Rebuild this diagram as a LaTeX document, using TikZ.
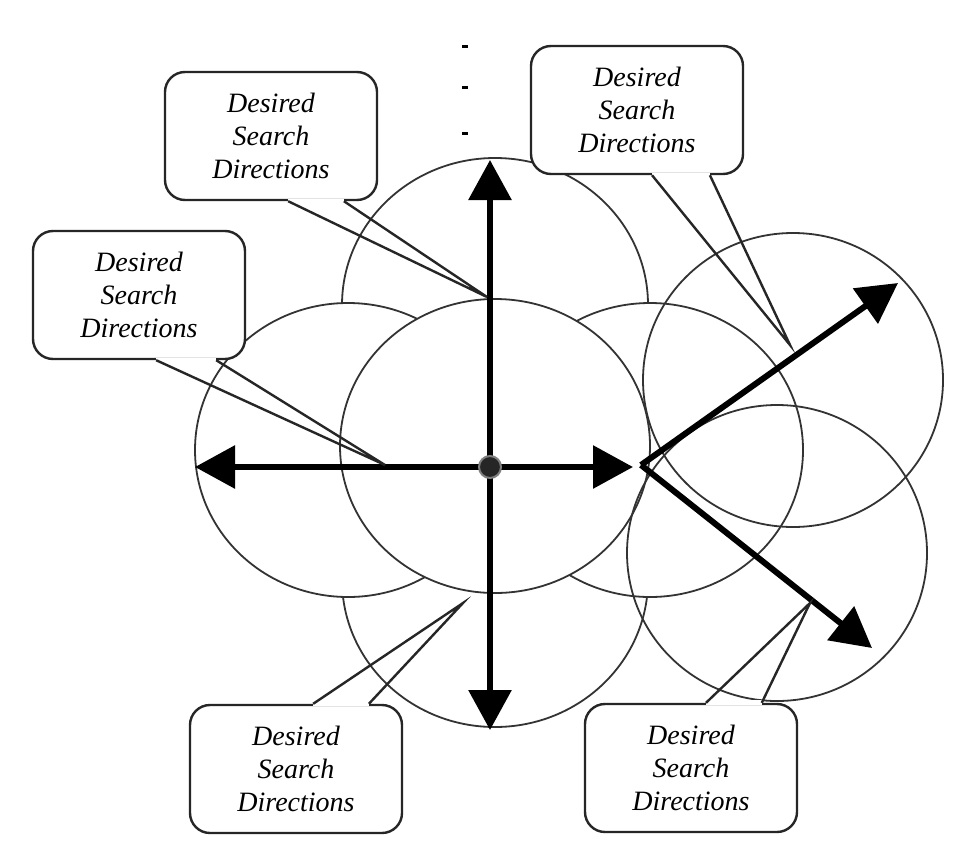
\documentclass[tikz,border=0pt]{standalone}
\usepackage{fontspec}
\setmainfont{Liberation Serif}
\usepackage{tikz}
\usetikzlibrary{arrows.meta, calc}

\begin{document}
\begin{tikzpicture}[x=0.5pt, y=-0.5pt,
    zone/.style={draw=black!80, line width=0.9pt},
    search/.style={line width=3pt, -{Triangle[length=20pt, width=21pt]}},
    note/.style={draw=black!85, line width=1.2pt, rounded corners=10pt, fill=white,
      minimum width=106pt, minimum height=64pt, inner sep=1pt, align=center,
      font=\fontsize{14}{16.5}\selectfont\itshape},
    wedge/.style={draw=black!85, line width=1.2pt}]

  % page
  \fill[white] (0,0) rectangle (967,856);
  \useasboundingbox (0,0) rectangle (967,856);

  % neighbourhoods around the current point
  \filldraw[zone, fill=white] (495,305) circle [x radius=153, y radius=147];
  \filldraw[zone, fill=white] (495,580) circle [x radius=153, y radius=147];
  \filldraw[zone, fill=white] (348,450) circle [x radius=153, y radius=147];
  \filldraw[zone, fill=white] (650,450) circle [x radius=153, y radius=147];
  \filldraw[zone, fill=white] (495,446) circle [x radius=155, y radius=147];

  % neighbourhoods of the next points
  \draw[zone] (793,380) circle [x radius=150, y radius=147];
  \draw[zone] (777,553) circle [x radius=150, y radius=148];

  % marks above
  \draw[line width=1.5pt] (462,47) -- (468,47);
  \draw[line width=1.5pt] (462,88) -- (468,88);
  \draw[line width=1.5pt] (462,133) -- (468,133);

  % search directions
  \coordinate (o) at (490,467);
  \coordinate (n) at (490,160);
  \coordinate (s) at (490,730);
  \coordinate (w) at (195,467);
  \coordinate (e) at (633,467);
  \coordinate (fork) at (641,465);
  \coordinate (ne) at (898,283);
  \coordinate (se) at (872,648);
  \draw[search] (o) -- (n);
  \draw[search] (o) -- (s);
  \draw[search] (o) -- (w);
  \draw[search] (o) -- (e);
  \draw[search] (fork) -- (ne);
  \draw[search] (fork) -- (se);
  \node[circle, fill=black!85, draw=black!50, line width=1pt, inner sep=0pt,
        minimum size=11pt] (hub) at (o) {};

  % callouts
  \node[note] (tl) at (271,136) {Desired\\Search\\Directions};
  \node[note] (tr) at (637,110) {Desired\\Search\\Directions};
  \node[note] (lf) at (139,295) {Desired\\Search\\Directions};
  \node[note] (bl) at (296,769) {Desired\\Search\\Directions};
  \node[note] (br) at (691,768) {Desired\\Search\\Directions};

  \coordinate (tl-tip) at (487,297);
  \coordinate (tr-tip) at (790,345);
  \coordinate (lf-tip) at (385,465);
  \coordinate (bl-tip) at (463,603);
  \coordinate (br-tip) at (810,603);

  \coordinate (tl-a) at ($(tl.south west)!0.58!(tl.south east)$);
  \coordinate (tl-b) at ($(tl.south west)!0.84!(tl.south east)$);
  \coordinate (tr-a) at ($(tr.south west)!0.57!(tr.south east)$);
  \coordinate (tr-b) at ($(tr.south west)!0.84!(tr.south east)$);
  \coordinate (lf-a) at ($(lf.south west)!0.58!(lf.south east)$);
  \coordinate (lf-b) at ($(lf.south west)!0.86!(lf.south east)$);
  \coordinate (bl-a) at ($(bl.north west)!0.58!(bl.north east)$);
  \coordinate (bl-b) at ($(bl.north west)!0.84!(bl.north east)$);
  \coordinate (br-a) at ($(br.north west)!0.57!(br.north east)$);
  \coordinate (br-b) at ($(br.north west)!0.83!(br.north east)$);

  \foreach \c in {tl, tr, lf, bl, br} {
    \draw[white, line width=2.5pt] (\c-a) -- (\c-b);
    \draw[wedge] (\c-a) -- (\c-tip) -- (\c-b);
  }
\end{tikzpicture}
\end{document}
